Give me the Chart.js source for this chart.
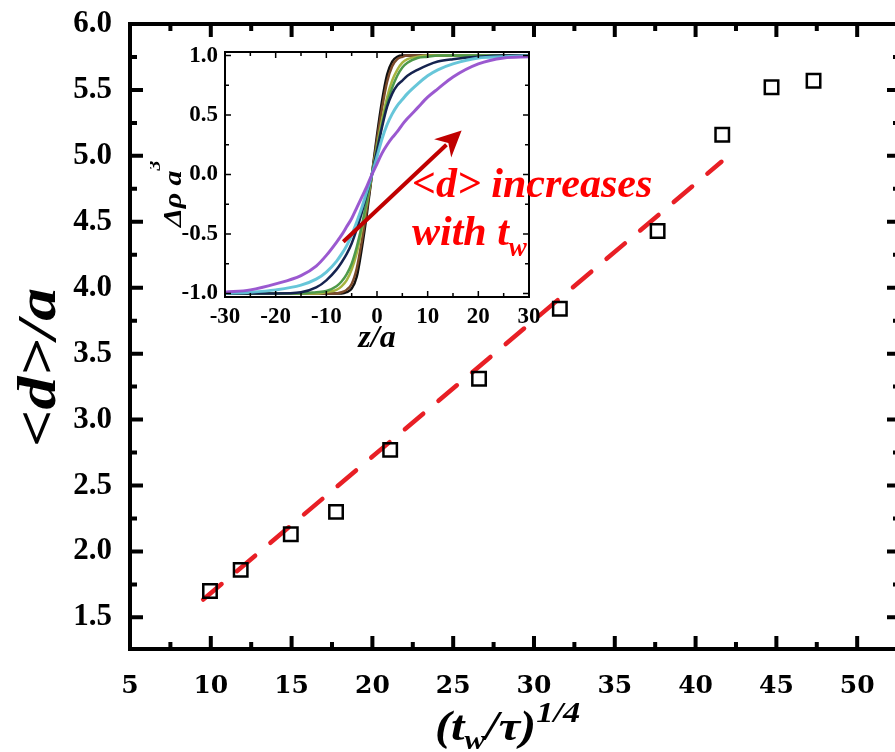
<!DOCTYPE html>
<html>
<head>
<meta charset="utf-8">
<script src="https://cdn.jsdelivr.net/npm/chart.js@4"></script>
<style>
  html, body { margin: 0; padding: 0; background: #fff; }
  #wrap { position: relative; width: 895px; height: 752px; overflow: hidden; }
  #main { position: absolute; left: 0; top: 0; }
  #inset { position: absolute; left: 150px; top: 40px; }
</style>
</head>
<body>
<div id="wrap">
  <canvas id="main" width="912" height="752"></canvas>
  <canvas id="inset" width="530" height="320"></canvas>
</div>
<script>
// mean domain width <d>/a against (t_w/tau)^(1/4)
const tRoot = [9.95, 11.85, 14.95, 17.75, 21.1, 26.6, 31.6, 37.65, 41.65, 44.7, 47.3];
const dMean = [1.70, 1.86, 2.13, 2.30, 2.77, 3.31, 3.84, 4.43, 5.16, 5.52, 5.57];

// linear fit through the early points
const fitT = [9.53, 41.6];
const fitD = [1.635, 4.955];

const xTicks = [5, 10, 15, 20, 25, 30, 35, 40, 45, 50];
const xMinor = [7.5, 12.5, 17.5, 22.5, 27.5, 32.5, 37.5, 42.5, 47.5];
const yTicks = [1.5, 2.0, 2.5, 3.0, 3.5, 4.0, 4.5, 5.0, 5.5, 6.0];
const yMinor = [1.75, 2.25, 2.75, 3.25, 3.75, 4.25, 4.75, 5.25, 5.75];

// density profiles across the interface, one per waiting time
const zGrid = [-30, -25, -20, -15, -12, -10, -8, -7, -6, -5, -4, -3, -2, -1, 0, 1, 2, 3, 4, 5, 6, 8, 10, 12, 15, 20, 25, 30];
const profBlack  = [-1, -1, -1, -1, -1, -1, -1, -1, -0.99, -0.96, -0.86, -0.62, -0.33, 0, 0.33, 0.62, 0.84, 0.95, 0.99, 1, 1, 1, 1, 1, 1, 1, 1, 1];
const profBrown  = [-1, -1, -1, -1, -1, -1, -1, -0.99, -0.97, -0.92, -0.79, -0.56, -0.29, 0, 0.29, 0.56, 0.78, 0.91, 0.97, 0.99, 1, 1, 1, 1, 1, 1, 1, 1];
const profOlive  = [-1, -1, -1, -1, -1, -0.99, -0.97, -0.94, -0.89, -0.80, -0.66, -0.46, -0.24, 0, 0.24, 0.46, 0.65, 0.79, 0.88, 0.94, 0.97, 0.99, 1, 1, 1, 1, 1, 1];
const profGreen  = [-1, -1, -1, -1, -0.99, -0.98, -0.94, -0.90, -0.84, -0.75, -0.61, -0.43, -0.22, 0, 0.22, 0.42, 0.60, 0.73, 0.83, 0.90, 0.94, 0.98, 0.99, 1, 1, 1, 1, 1];
const profNavy   = [-1, -1, -1, -0.99, -0.95, -0.89, -0.80, -0.74, -0.67, -0.58, -0.46, -0.32, -0.16, 0, 0.20, 0.40, 0.57, 0.68, 0.75, 0.79, 0.83, 0.88, 0.92, 0.95, 0.97, 0.99, 1, 1];
const profCyan   = [-1, -0.99, -0.97, -0.93, -0.88, -0.82, -0.73, -0.67, -0.60, -0.51, -0.40, -0.28, -0.14, 0, 0.15, 0.30, 0.42, 0.51, 0.58, 0.63, 0.68, 0.76, 0.83, 0.88, 0.93, 0.98, 0.99, 1];
const profPurple = [-0.99, -0.97, -0.92, -0.85, -0.77, -0.68, -0.57, -0.51, -0.44, -0.37, -0.28, -0.19, -0.10, 0, 0.09, 0.18, 0.25, 0.31, 0.36, 0.42, 0.47, 0.56, 0.65, 0.72, 0.82, 0.93, 0.98, 0.99];

const zTicks = [-30, -20, -10, 0, 10, 20, 30];
const zMinor = [-25, -15, -5, 5, 15, 25];
const rhoTicks = [-1.0, -0.5, 0.0, 0.5, 1.0];
const rhoMinor = [-0.75, -0.25, 0.25, 0.75];

const SERIF = '"Liberation Serif", "Times New Roman", serif';

const toPoints = (xs, ys) => xs.map((x, i) => ({ x, y: ys[i] }));

// keep the layout exact: no extra room for half labels at the ends
const noEdgePadding = s => {
  s.paddingTop = 0;
  s.paddingBottom = 0;
  s.paddingLeft = 0;
  s.paddingRight = 0;
};

// draws a row of italic text pieces (sub/superscripts via dy)
const drawRuns = (ctx, x, y, runs, opts = {}) => {
  const { angle = 0, stretch = 1, color = '#000', align = 'left' } = opts;
  ctx.save();
  ctx.translate(x, y);
  ctx.rotate(angle);
  ctx.scale(stretch, 1);
  ctx.fillStyle = color;
  ctx.textAlign = 'left';
  ctx.textBaseline = 'alphabetic';
  let total = 0;
  runs.forEach(r => {
    ctx.font = `italic bold ${r.size}px ${SERIF}`;
    total += ctx.measureText(r.text).width;
  });
  let cx = align === 'center' ? -total / 2 : 0;
  runs.forEach(r => {
    ctx.font = `italic bold ${r.size}px ${SERIF}`;
    ctx.fillText(r.text, cx, r.dy || 0);
    cx += ctx.measureText(r.text).width;
  });
  ctx.restore();
};

// closed frame with inward major/minor ticks on all four sides
const boxTicks = {
  id: 'boxTicks',
  afterDatasetsDraw(chart, args, opts) {
    const { ctx, chartArea: a, scales: { x, y } } = chart;
    ctx.save();
    ctx.strokeStyle = '#000';
    ctx.lineCap = 'butt';
    ctx.lineWidth = opts.tickWidth;
    ctx.beginPath();
    const xMarks = (vals, len) => vals.forEach(v => {
      const px = x.getPixelForValue(v);
      if (px < a.left - 1 || px > a.right + 1) return;
      ctx.moveTo(px, a.bottom); ctx.lineTo(px, a.bottom - len);
      ctx.moveTo(px, a.top); ctx.lineTo(px, a.top + len);
    });
    const yMarks = (vals, len) => vals.forEach(v => {
      const py = y.getPixelForValue(v);
      if (py < a.top - 1 || py > a.bottom + 1) return;
      ctx.moveTo(a.left, py); ctx.lineTo(a.left + len, py);
      ctx.moveTo(a.right, py); ctx.lineTo(a.right - len, py);
    });
    xMarks(x.ticks.map(t => t.value), opts.major);
    xMarks(opts.xMinor, opts.minor);
    yMarks(y.ticks.map(t => t.value), opts.major);
    yMarks(opts.yMinor, opts.minor);
    ctx.stroke();
    ctx.lineWidth = opts.frame;
    ctx.strokeRect(a.left, a.top, a.right - a.left, a.bottom - a.top);
    ctx.restore();
  },
};

const mainTitles = {
  id: 'mainTitles',
  afterDraw(chart) {
    const ctx = chart.ctx;
    drawRuns(ctx, 435, 740, [
      { text: '(', size: 42 },
      { text: 't', size: 42 },
      { text: 'w', size: 27, dy: 9 },
      { text: '/', size: 42 },
      { text: 'τ', size: 42 },
      { text: ')', size: 42 },
      { text: '1/4', size: 30, dy: -18 },
    ], { stretch: 1.15 });
    drawRuns(ctx, 55, 447, [{ text: '<d>/a', size: 54 }], { angle: -Math.PI / 2, stretch: 1.22 });
  },
};

new Chart(document.getElementById('main'), {
  type: 'scatter',
  data: {
    datasets: [
      {
        data: toPoints(tRoot, dMean),
        pointStyle: 'rect',
        pointRadius: 9.5,
        pointBorderWidth: 2.5,
        pointBorderColor: '#000',
        pointBackgroundColor: 'rgba(0,0,0,0)',
        showLine: false,
      },
      {
        data: toPoints(fitT, fitD),
        showLine: true,
        borderColor: '#e81f25',
        borderWidth: 4.5,
        borderDash: [24, 20],
        borderCapStyle: 'round',
        pointRadius: 0,
      },
    ],
  },
  options: {
    responsive: false,
    animation: false,
    layout: { padding: { top: 24, right: 12, left: 0, bottom: 0 } },
    plugins: {
      legend: { display: false },
      tooltip: { enabled: false },
      boxTicks: { frame: 4, tickWidth: 4, major: 13, minor: 7, xMinor: xMinor, yMinor: yMinor },
    },
    scales: {
      x: {
        type: 'linear',
        min: 5,
        max: 52.65,
        afterBuildTicks: s => { s.ticks = xTicks.map(v => ({ value: v })); },
        afterFit: s => { s.height = 103; noEdgePadding(s); },
        grid: { display: false, drawTicks: false },
        border: { display: false },
        ticks: {
          color: '#000',
          padding: 22,
          font: { family: '"DejaVu Serif", serif', weight: 'bold', size: 25 },
          callback: v => String(v),
        },
      },
      y: {
        type: 'linear',
        min: 1.26,
        max: 6.0,
        afterBuildTicks: s => { s.ticks = yTicks.map(v => ({ value: v })); },
        afterFit: s => { s.width = 130; noEdgePadding(s); },
        grid: { display: false, drawTicks: false },
        border: { display: false },
        ticks: {
          color: '#000',
          padding: 18,
          font: { family: SERIF, weight: 'bold', size: 31 },
          callback: v => v.toFixed(1),
        },
      },
    },
  },
  plugins: [boxTicks, mainTitles],
});

// white plot background so the inset covers what is behind it
const insetFill = {
  id: 'insetFill',
  beforeDraw(chart) {
    const { ctx, chartArea: a } = chart;
    ctx.save();
    ctx.fillStyle = '#fff';
    ctx.fillRect(a.left, a.top, a.right - a.left, a.bottom - a.top);
    ctx.restore();
  },
};

const insetTitles = {
  id: 'insetTitles',
  afterDraw(chart) {
    const ctx = chart.ctx;
    drawRuns(ctx, 31, 187, [
      { text: 'Δρ a', size: 26 },
      { text: '3', size: 17, dy: -21 },
    ], { angle: -Math.PI / 2, stretch: 1.15 });
    drawRuns(ctx, 227, 307, [{ text: 'z/a', size: 32 }], { align: 'center' });
  },
};

// arrow and note, placed in inset data units
const insetNote = {
  id: 'insetNote',
  afterDraw(chart, args, opts) {
    const { ctx, scales: { x, y } } = chart;
    const px = p => [x.getPixelForValue(p[0]), y.getPixelForValue(p[1])];
    const [x0, y0] = px(opts.from);
    const [x1, y1] = px(opts.to);
    const ang = Math.atan2(y1 - y0, x1 - x0);
    const head = 26, half = 12.5;
    ctx.save();
    ctx.strokeStyle = opts.arrowColor;
    ctx.fillStyle = opts.arrowColor;
    ctx.lineWidth = 4;
    ctx.beginPath();
    ctx.moveTo(x0, y0);
    ctx.lineTo(x1 - Math.cos(ang) * head * 0.8, y1 - Math.sin(ang) * head * 0.8);
    ctx.stroke();
    const bx = x1 - Math.cos(ang) * head, by = y1 - Math.sin(ang) * head;
    ctx.beginPath();
    ctx.moveTo(x1, y1);
    ctx.lineTo(bx + Math.sin(ang) * half, by - Math.cos(ang) * half);
    ctx.lineTo(x1 - Math.cos(ang) * head * 0.7, y1 - Math.sin(ang) * head * 0.7);
    ctx.lineTo(bx - Math.sin(ang) * half, by + Math.cos(ang) * half);
    ctx.closePath();
    ctx.fill();
    ctx.restore();
    const [tx1, ty1] = px(opts.line1);
    const [tx2, ty2] = px(opts.line2);
    drawRuns(ctx, tx1, ty1, [{ text: '<d> increases', size: 42 }], { color: opts.textColor });
    drawRuns(ctx, tx2, ty2, [
      { text: 'with t', size: 42 },
      { text: 'w', size: 27, dy: 11 },
    ], { color: opts.textColor });
  },
};

const profiles = [
  { data: profPurple, color: 'rgba(150, 80, 205, 0.95)', width: 3 },
  { data: profCyan, color: 'rgba(95, 195, 215, 0.95)', width: 3 },
  { data: profNavy, color: '#15234f', width: 2.5 },
  { data: profGreen, color: '#4f9a4a', width: 2.5 },
  { data: profOlive, color: '#a7b440', width: 2.5 },
  { data: profBrown, color: '#7b4a2a', width: 2.5 },
  { data: profBlack, color: '#111', width: 2.5 },
];

new Chart(document.getElementById('inset'), {
  type: 'scatter',
  data: {
    datasets: profiles.map(p => ({
      data: toPoints(zGrid, p.data),
      showLine: true,
      borderColor: p.color,
      borderWidth: p.width,
      pointRadius: 0,
      cubicInterpolationMode: 'monotone',
    })),
  },
  options: {
    responsive: false,
    animation: false,
    layout: { padding: { top: 12, right: 151, left: 0, bottom: 0 } },
    plugins: {
      legend: { display: false },
      tooltip: { enabled: false },
      boxTicks: { frame: 2, tickWidth: 1.5, major: 6, minor: 4, xMinor: zMinor, yMinor: rhoMinor },
      insetNote: {
        from: [-6.65, -0.565],
        to: [16.7, 0.37],
        line1: [6.9, -0.19],
        line2: [6.9, -0.59],
        arrowColor: '#c00000',
        textColor: '#ff0000',
      },
    },
    scales: {
      x: {
        type: 'linear',
        min: -30,
        max: 30,
        afterBuildTicks: s => { s.ticks = zTicks.map(v => ({ value: v })); },
        afterFit: s => { s.height = 63; noEdgePadding(s); },
        grid: { display: false, drawTicks: false },
        border: { display: false },
        ticks: {
          color: '#000',
          padding: 6,
          font: { family: SERIF, weight: 'bold', size: 23 },
          callback: v => String(v),
        },
      },
      y: {
        type: 'linear',
        min: -1.03,
        max: 1.03,
        afterBuildTicks: s => { s.ticks = rhoTicks.map(v => ({ value: v })); },
        afterFit: s => { s.width = 75; noEdgePadding(s); },
        grid: { display: false, drawTicks: false },
        border: { display: false },
        ticks: {
          color: '#000',
          padding: 7,
          font: { family: SERIF, weight: 'bold', size: 23 },
          callback: v => v.toFixed(1),
        },
      },
    },
  },
  plugins: [insetFill, boxTicks, insetTitles, insetNote],
});
</script>
</body>
</html>
